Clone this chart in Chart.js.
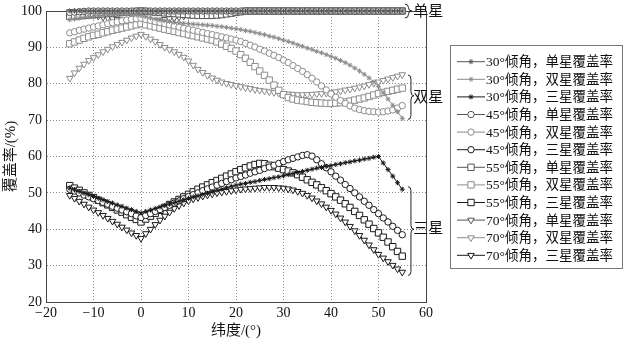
<!DOCTYPE html>
<html>
<head>
<meta charset="utf-8">
<script src="https://cdn.jsdelivr.net/npm/chart.js@4.4.0/dist/chart.umd.min.js"></script>
<style>
  body { margin: 0; background: #fff; }
  #wrap { width: 624px; height: 341px; }
</style>
</head>
<body>
<div id="wrap"><canvas id="cov" width="624" height="341"></canvas></div>
<script>
// latitude (deg)
const lat = [
  -15, -14, -13, -12, -11, -10, -9, -8, -7, -6,
  -5, -4, -3, -2, -1, 0, 1, 2, 3, 4,
  5, 6, 7, 8, 9, 10, 11, 12, 13, 14,
  15, 16, 17, 18, 19, 20, 21, 22, 23, 24,
  25, 26, 27, 28, 29, 30, 31, 32, 33, 34,
  35, 36, 37, 38, 39, 40, 41, 42, 43, 44,
  45, 46, 47, 48, 49, 50, 51, 52, 53, 54,
  55
];

// 30 deg inclination
const single30 = [
  100, 100, 100, 100, 100, 100, 100, 100, 100, 100,
  100, 100, 100, 100, 100, 100, 100, 100, 100, 100,
  100, 100, 100, 100, 100, 100, 100, 100, 100, 100,
  100, 100, 100, 100, 100, 100, 100, 100, 100, 100,
  100, 100, 100, 100, 100, 100, 100, 100, 100, 100,
  100, 100, 100, 100, 100, 100, 100, 100, 100, 100,
  100, 100, 100, 100, 100, 100, 100, 100, 100, 100,
  100
];
const double30 = [
  97.6, 97.8, 98.0, 98.2, 98.4, 98.5, 98.7, 98.8, 98.9, 99.0,
  99.0, 99.1, 99.1, 99.0, 98.9, 98.7, 98.4, 98.1, 97.8, 97.5,
  97.3, 97.1, 96.9, 96.8, 96.6, 96.5, 96.4, 96.3, 96.2, 96.1,
  96.0, 95.8, 95.7, 95.5, 95.3, 95.1, 94.9, 94.6, 94.4, 94.1,
  93.8, 93.5, 93.1, 92.8, 92.4, 92.0, 91.6, 91.2, 90.7, 90.3,
  89.8, 89.4, 88.9, 88.5, 88.0, 87.5, 87.0, 86.4, 85.8, 85.1,
  84.3, 83.5, 82.6, 81.6, 80.5, 79.2, 77.5, 75.8, 74.1, 72.3,
  70.5
];
const triple30 = [
  51.3, 50.8, 50.4, 49.9, 49.5, 49.0, 48.5, 48.1, 47.6, 47.2,
  46.7, 46.3, 45.8, 45.4, 44.9, 44.5, 44.9, 45.3, 45.7, 46.1,
  46.5, 46.9, 47.3, 47.7, 48.1, 48.5, 48.9, 49.2, 49.6, 49.9,
  50.3, 50.7, 51.0, 51.4, 51.8, 52.1, 52.4, 52.6, 52.9, 53.1,
  53.4, 53.7, 53.9, 54.2, 54.4, 54.7, 55.0, 55.3, 55.6, 55.9,
  56.2, 56.5, 56.8, 57.0, 57.3, 57.5, 57.8, 58.0, 58.3, 58.5,
  58.8, 59.0, 59.3, 59.5, 59.8, 60.0, 58.2, 56.4, 54.6, 52.8,
  51.0
];

// 45 deg inclination
const single45 = [
  99.6, 99.7, 99.8, 99.9, 100, 100, 100, 100, 100, 100,
  100, 100, 100, 100, 100, 100, 100, 100, 100, 100,
  100, 100, 100, 100, 100, 100, 100, 100, 100, 100,
  100, 100, 100, 100, 100, 100, 100, 100, 100, 100,
  100, 100, 100, 100, 100, 100, 100, 100, 100, 100,
  100, 100, 100, 100, 100, 100, 100, 100, 100, 100,
  100, 100, 100, 100, 100, 100, 100, 100, 100, 100,
  100
];
const double45 = [
  94.0, 94.3, 94.7, 95.0, 95.3, 95.6, 95.9, 96.2, 96.5, 96.8,
  97.0, 97.3, 97.5, 97.7, 97.9, 98.0, 97.7, 97.4, 97.1, 96.8,
  96.5, 96.2, 95.9, 95.6, 95.3, 95.0, 94.7, 94.4, 94.1, 93.8,
  93.5, 93.2, 92.9, 92.6, 92.3, 92.0, 91.6, 91.1, 90.6, 90.1,
  89.5, 89.0, 88.4, 87.8, 87.2, 86.5, 85.8, 85.0, 84.2, 83.4,
  82.5, 81.5, 80.5, 79.4, 78.3, 77.2, 76.3, 75.4, 74.6, 73.9,
  73.3, 72.9, 72.6, 72.4, 72.3, 72.2, 72.3, 72.5, 72.8, 73.3,
  74.0
];
const triple45 = [
  51.0, 50.5, 50.0, 49.4, 48.9, 48.4, 47.9, 47.4, 46.9, 46.3,
  45.8, 45.3, 44.8, 44.3, 43.7, 43.2, 43.8, 44.3, 44.9, 45.4,
  46.0, 46.6, 47.2, 47.8, 48.4, 49.0, 49.5, 50.0, 50.6, 51.1,
  51.6, 52.1, 52.6, 53.1, 53.6, 54.1, 54.5, 54.9, 55.4, 55.8,
  56.2, 56.7, 57.1, 57.6, 58.1, 58.6, 59.1, 59.5, 59.9, 60.3,
  60.5, 60.1, 59.1, 58.0, 56.9, 55.8, 54.6, 53.5, 52.3, 51.2,
  50.0, 48.9, 47.7, 46.6, 45.4, 44.3, 43.1, 42.0, 40.8, 39.7,
  38.5
];

// 55 deg inclination
const single55 = [
  98.5, 98.6, 98.7, 98.8, 98.9, 99.0, 99.1, 99.2, 99.3, 99.4,
  99.5, 99.6, 99.7, 99.8, 99.9, 100, 99.9, 99.8, 99.7, 99.6,
  99.5, 99.4, 99.3, 99.2, 99.1, 99.0, 98.9, 98.8, 98.8, 98.8,
  98.8, 98.9, 99.0, 99.2, 99.4, 99.6, 99.8, 100, 100, 100,
  100, 100, 100, 100, 100, 100, 100, 100, 100, 100,
  100, 100, 100, 100, 100, 100, 100, 100, 100, 100,
  100, 100, 100, 100, 100, 100, 100, 100, 100, 100,
  100
];
const double55 = [
  91.0, 91.5, 92.0, 92.5, 92.9, 93.3, 93.6, 94.0, 94.3, 94.7,
  95.0, 95.3, 95.6, 95.9, 96.2, 96.5, 96.2, 95.9, 95.6, 95.3,
  95.0, 94.7, 94.4, 94.1, 93.8, 93.5, 93.2, 92.9, 92.6, 92.3,
  92.0, 91.5, 90.9, 90.3, 89.7, 89.0, 88.0, 87.0, 85.9, 84.7,
  83.5, 82.3, 81.0, 79.6, 78.2, 77.0, 76.2, 75.8, 75.5, 75.3,
  75.1, 74.9, 74.8, 74.7, 74.6, 74.6, 74.7, 74.8, 75.0, 75.2,
  75.5, 75.8, 76.1, 76.5, 76.9, 77.3, 77.6, 77.9, 78.2, 78.5,
  78.8
];
const triple55 = [
  52.0, 51.3, 50.7, 50.0, 49.3, 48.7, 48.0, 47.3, 46.7, 46.0,
  45.3, 44.7, 44.0, 43.3, 42.7, 42.0, 42.8, 43.6, 44.4, 45.2,
  46.0, 46.8, 47.5, 48.2, 48.9, 49.6, 50.3, 51.0, 51.6, 52.2,
  52.8, 53.4, 54.0, 54.6, 55.2, 55.8, 56.4, 56.9, 57.4, 57.8,
  58.1, 58.0, 57.6, 57.2, 56.8, 56.4, 56.0, 55.5, 55.0, 54.3,
  53.6, 52.9, 52.2, 51.4, 50.6, 49.8, 48.9, 48.0, 47.0, 46.0,
  44.9, 43.8, 42.6, 41.4, 40.2, 39.0, 37.8, 36.5, 35.2, 33.9,
  32.6
];

// 70 deg inclination
const single70 = [
  99.8, 99.6, 99.4, 99.2, 99.0, 98.8, 98.6, 98.3, 98.1, 97.9,
  97.7, 97.5, 97.2, 97.0, 96.8, 96.6, 96.8, 97.0, 97.2, 97.5,
  97.7, 97.9, 98.1, 98.3, 98.6, 98.8, 99.0, 99.2, 99.4, 99.6,
  99.7, 99.8, 99.9, 100, 100, 100, 100, 100, 100, 100,
  100, 100, 100, 100, 100, 100, 100, 100, 100, 100,
  100, 100, 100, 100, 100, 100, 100, 100, 100, 100,
  100, 100, 100, 100, 100, 100, 100, 100, 100, 100,
  100
];
const double70 = [
  81.5, 83.0, 84.3, 85.4, 86.4, 87.2, 88.0, 88.8, 89.5, 90.2,
  90.8, 91.4, 92.0, 92.6, 93.1, 93.6, 93.0, 92.3, 91.6, 90.8,
  90.0, 89.4, 88.8, 88.1, 87.3, 86.3, 85.1, 84.0, 83.1, 82.3,
  81.6, 81.0, 80.5, 80.1, 79.8, 79.5, 79.2, 78.9, 78.7, 78.4,
  78.2, 78.0, 77.8, 77.6, 77.4, 77.3, 77.2, 77.1, 77.0, 77.0,
  77.0, 77.1, 77.2, 77.3, 77.4, 77.6, 77.8, 78.0, 78.3, 78.5,
  78.8, 79.1, 79.4, 79.8, 80.1, 80.5, 80.9, 81.3, 81.7, 82.1,
  82.5
];
const triple70 = [
  49.3, 48.5, 47.7, 46.9, 46.1, 45.3, 44.6, 43.8, 43.0, 42.2,
  41.4, 40.6, 39.8, 39.0, 38.3, 37.5, 38.8, 40.0, 41.3, 42.5,
  43.6, 44.7, 45.7, 46.5, 47.2, 47.8, 48.3, 48.7, 49.1, 49.4,
  49.7, 50.0, 50.2, 50.4, 50.6, 50.8, 51.0, 51.1, 51.2, 51.3,
  51.4, 51.5, 51.5, 51.5, 51.4, 51.3, 51.1, 50.8, 50.4, 49.9,
  49.3, 48.6, 47.8, 47.0, 46.1, 45.2, 44.2, 43.1, 42.0, 40.8,
  39.6, 38.3, 37.0, 35.7, 34.4, 33.1, 32.1, 31.1, 30.1, 29.1,
  28.2
];

const FONT = '"Liberation Serif", "Noto Sans CJK SC", serif';
const SINGLE = "#555";
const DOUBLE = "#8c8c8c";
const TRIPLE = "#1a1a1a";

function series(label, values, color, style, radius, rotation) {
  return {
    label: label,
    data: lat.map((x, i) => ({ x: x, y: values[i] })),
    borderColor: color,
    borderWidth: 1,
    pointStyle: style,
    pointRadius: radius,
    pointRotation: rotation || 0,
    pointBorderColor: color,
    pointBackgroundColor: "#fff",
    pointBorderWidth: 1,
    tension: 0,
    clip: false,
  };
}

// curly braces + group labels on the right of the plot
function brace(ctx, x, y1, y2, ym, w) {
  const r = Math.min(4, (y2 - y1) / 4);
  const xm = x + w / 2;
  ctx.beginPath();
  ctx.moveTo(x, y1);
  ctx.quadraticCurveTo(xm, y1, xm, y1 + r);
  ctx.lineTo(xm, ym - r);
  ctx.quadraticCurveTo(xm, ym, x + w, ym);
  ctx.quadraticCurveTo(xm, ym, xm, ym + r);
  ctx.lineTo(xm, y2 - r);
  ctx.quadraticCurveTo(xm, y2, x, y2);
  ctx.stroke();
}

const groupMarks = {
  id: "groupMarks",
  beforeDatasetsDraw(chart) {
    const a = chart.chartArea;
    const ctx = chart.ctx;
    ctx.save();
    ctx.strokeStyle = "#444";
    ctx.lineWidth = 1;
    ctx.strokeRect(a.left + 0.5, a.top + 0.5, a.right - a.left, a.bottom - a.top);
    ctx.restore();
  },
  afterDraw(chart) {
    const ctx = chart.ctx;
    const xs = chart.scales.x;
    const ys = chart.scales.y;
    ctx.save();
    ctx.strokeStyle = "#222";
    ctx.lineWidth = 1;
    const bx = xs.getPixelForValue(56.2);
    brace(ctx, bx - 3, ys.getPixelForValue(101.9), ys.getPixelForValue(98.1), ys.getPixelForValue(100), 7);
    brace(ctx, bx, ys.getPixelForValue(82.4), ys.getPixelForValue(70.2), ys.getPixelForValue(76.7), 6);
    brace(ctx, bx, ys.getPixelForValue(51.7), ys.getPixelForValue(27.3), ys.getPixelForValue(40), 6);
    ctx.fillStyle = "#111";
    ctx.font = "15px " + FONT;
    ctx.textBaseline = "middle";
    const lx = xs.getPixelForValue(57.3);
    ctx.fillText("单星", lx, ys.getPixelForValue(99.8));
    ctx.fillText("双星", lx, ys.getPixelForValue(76.1));
    ctx.fillText("三星", lx, ys.getPixelForValue(40));

    // legend box
    ctx.strokeStyle = "#777";
    ctx.strokeRect(450.5, 45.5, 172, 223);
    ctx.font = "13.5px " + FONT;
    chart.data.datasets.forEach((ds, i) => {
      const y = 61.7 + i * 17.6;
      ctx.strokeStyle = ds.borderColor;
      ctx.lineWidth = 1;
      ctx.beginPath();
      ctx.moveTo(457, y);
      ctx.lineTo(485, y);
      ctx.stroke();
      ctx.fillStyle = "#fff";
      Chart.helpers.drawPoint(ctx, {
        pointStyle: ds.pointStyle,
        radius: ds.pointRadius,
        rotation: ds.pointRotation,
        borderWidth: 1,
      }, 471, y);
      ctx.fillStyle = "#111";
      ctx.fillText(ds.label, 486, y + 1);
    });
    ctx.restore();
  },
};

function initChart() {
  const ctx = document.getElementById("cov").getContext("2d");
  new Chart(ctx, {
    type: "line",
    data: {
      datasets: [
        series("30°倾角，单星覆盖率", single30, SINGLE, "star", 2.5),
        series("30°倾角，双星覆盖率", double30, DOUBLE, "star", 2.5),
        series("30°倾角，三星覆盖率", triple30, TRIPLE, "star", 2.5),
        series("45°倾角，单星覆盖率", single45, SINGLE, "circle", 3.2),
        series("45°倾角，双星覆盖率", double45, DOUBLE, "circle", 3.2),
        series("45°倾角，三星覆盖率", triple45, TRIPLE, "circle", 3.2),
        series("55°倾角，单星覆盖率", single55, SINGLE, "rect", 4.5),
        series("55°倾角，双星覆盖率", double55, DOUBLE, "rect", 4.5),
        series("55°倾角，三星覆盖率", triple55, TRIPLE, "rect", 4.5),
        series("70°倾角，单星覆盖率", single70, SINGLE, "triangle", 3.8, 180),
        series("70°倾角，双星覆盖率", double70, DOUBLE, "triangle", 3.8, 180),
        series("70°倾角，三星覆盖率", triple70, TRIPLE, "triangle", 3.8, 180),
      ],
    },
    options: {
      responsive: false,
      animation: false,
      layout: { padding: { left: 0, right: 198, top: 7, bottom: 0 } },
      plugins: {
        legend: { display: false },
        tooltip: { enabled: false },
      },
      scales: {
        x: {
          type: "linear",
          min: -20,
          max: 60,
          afterFit: (s) => { s.height = 39; },
          ticks: {
            stepSize: 10,
            padding: 4,
            color: "#111",
            font: { family: FONT, size: 14, lineHeight: 1 },
            callback: (v) => String(v).replace("-", "−"),
          },
          grid: { color: "#888", drawTicks: false },
          border: { display: true, color: "#333", width: 1, dash: [1, 2] },
          title: {
            display: true,
            text: "纬度/(°)",
            color: "#111",
            font: { family: FONT, size: 15 },
            padding: { top: 1, bottom: 1 },
          },
        },
        y: {
          min: 20,
          max: 100,
          afterFit: (s) => { s.width = 46; },
          ticks: {
            stepSize: 10,
            padding: 4,
            color: "#111",
            font: { family: FONT, size: 14, lineHeight: 1 },
          },
          grid: { color: "#888", drawTicks: false },
          border: { display: true, color: "#333", width: 1, dash: [1, 2] },
          title: {
            display: true,
            text: "覆盖率/(%)",
            color: "#111",
            font: { family: FONT, size: 15 },
            padding: { top: 2, bottom: 2 },
          },
        },
      },
    },
    plugins: [groupMarks],
  });
}

document.addEventListener("DOMContentLoaded", initChart);
</script>
</body>
</html>
